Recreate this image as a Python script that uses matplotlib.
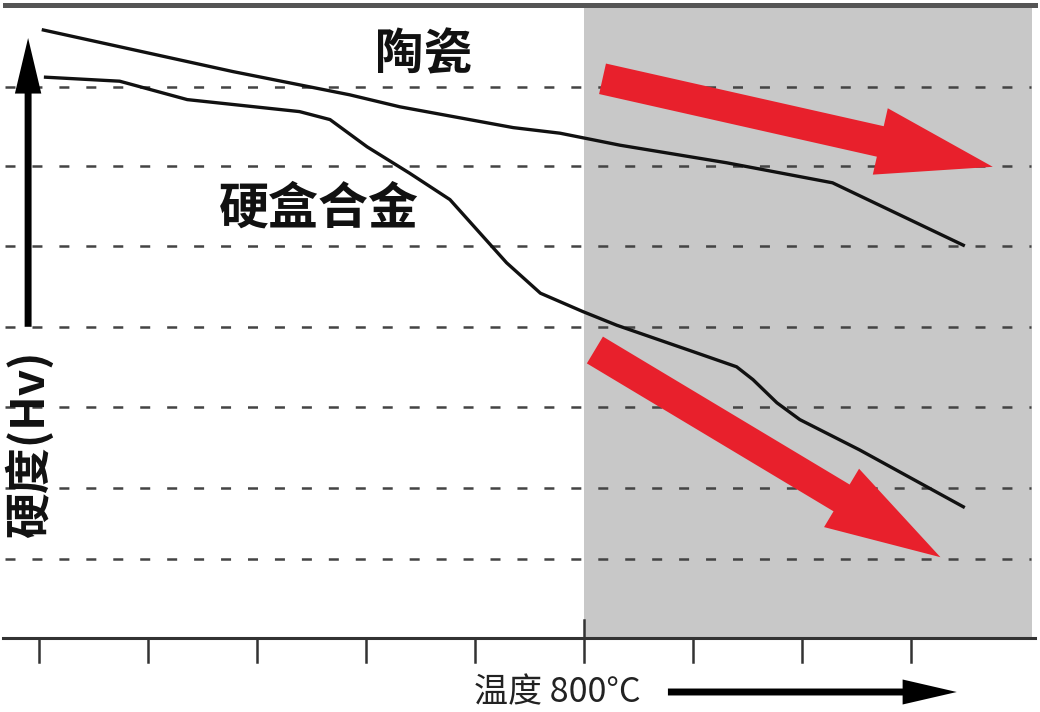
import matplotlib.pyplot as plt
from matplotlib.patches import FancyArrowPatch, Rectangle

plt.rcParams['font.family'] = ['Noto Sans CJK SC', 'DejaVu Sans']

# x in tick steps (temperature), y in grid steps (hardness)
ceramic_x = [0.04, 1.78, 2.85, 3.31, 4.35, 4.78, 5.33, 6.31, 7.28, 8.48]
ceramic_y = [7.60, 7.08, 6.79, 6.64, 6.38, 6.31, 6.16, 5.94, 5.69, 4.91]

alloy_x = [0.06, 0.74, 1.36, 2.39, 2.67, 3.01, 3.40, 3.77, 4.02, 4.29,
           4.60, 4.99, 5.30, 6.00, 6.40, 6.55, 6.77, 6.98, 7.53, 8.48]
alloy_y = [7.01, 6.96, 6.73, 6.58, 6.48, 6.14, 5.81, 5.48, 5.10, 4.69,
           4.31, 4.08, 3.91, 3.58, 3.39, 3.23, 2.94, 2.73, 2.35, 1.64]

grid_levels = [6.89, 5.9, 4.9, 3.89, 2.89, 1.88, 0.99]
tick_pos = [0, 1, 2, 3, 4, 5, 6, 7, 8]
hot_start = 5  # 800°C

fig = plt.figure(figsize=(10.4, 7.12), dpi=100)
ax = fig.add_axes([0, 0, 1, 1])
ax.set_xlim(-39 / 109, 1001 / 109)
ax.set_ylim(-0.925, 7.975)
ax.axis('off')

# grey high temperature zone
ax.add_patch(Rectangle((hot_start, 0), 9.11 - hot_start, 7.91,
                       facecolor='#c8c8c8', edgecolor='none', zorder=0))

# dashed grid
for lv in grid_levels:
    ax.plot([-0.31, 9.1], [lv, lv], color='#444444', lw=1.8,
            linestyle=(0, (7.2 / 1.8, 12.2 / 1.8)), zorder=1)

# frame lines
ax.plot([-0.31, 9.14], [7.91, 7.91], color='#555555', lw=3.6, zorder=2)
ax.plot([-0.33, 9.14], [0, 0], color='#333333', lw=2.2, zorder=2)
for t in tick_pos:
    top = 0.225 if t == hot_start else 0
    ax.plot([t, t], [top, -0.3], color='#333333', lw=1.8, zorder=2)

# curves
ax.plot(ceramic_x, ceramic_y, color='#111111', lw=2.4,
        solid_joinstyle='round', zorder=3)
ax.plot(alloy_x, alloy_y, color='#111111', lw=2.4,
        solid_joinstyle='round', zorder=3)

# red trend arrows
red = '#e8202c'
for (x0, y0), (x1, y1) in [((5.17, 6.99), (8.75, 5.89)),
                           ((5.10, 3.60), (8.27, 1.01))]:
    ax.add_patch(FancyArrowPatch(
        (x0, y0), (x1, y1),
        arrowstyle='simple,head_length=83,head_width=49,tail_width=22.5',
        mutation_scale=1, shrinkA=0, shrinkB=0,
        facecolor=red, edgecolor='none', zorder=4))

# axis arrows
ax.add_patch(FancyArrowPatch(
    (-0.10, 3.89), (-0.10, 7.50),
    arrowstyle='simple,head_length=40,head_width=19,tail_width=5',
    mutation_scale=1, shrinkA=0, shrinkB=0,
    facecolor='black', edgecolor='none', zorder=4))
ax.add_patch(FancyArrowPatch(
    (5.77, -0.675), (8.42, -0.675),
    arrowstyle='simple,head_length=39,head_width=18,tail_width=5',
    mutation_scale=1, shrinkA=0, shrinkB=0,
    facecolor='black', edgecolor='none', zorder=4))

# labels
ax.text(-0.09, 2.44, '硬度(Hv)', rotation=90, ha='center', va='center',
        fontsize=33, fontweight='bold', color='#111111')
ax.text(3.53, 7.29, '陶瓷', ha='center', va='center',
        fontsize=35, fontweight='bold', color='#111111')
ax.text(2.57, 5.36, '硬盒合金', ha='center', va='center',
        fontsize=36, fontweight='bold', color='#111111')
ax.text(3.99, -0.68, '温度 800°C', ha='left', va='center',
        fontsize=24.5, color='#222222')

fig.savefig('out.png', dpi=100)
